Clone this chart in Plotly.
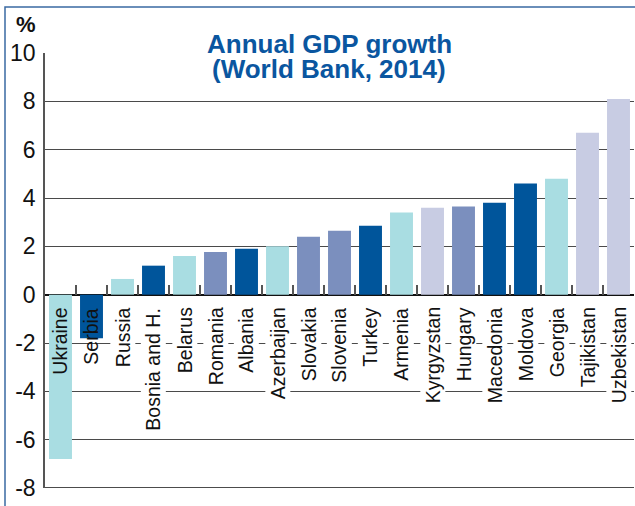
import plotly.graph_objects as go

countries = ["Ukraine", "Serbia", "Russia", "Bosnia and H.", "Belarus", "Romania",
             "Albania", "Azerbaijan", "Slovakia", "Slovenia", "Turkey", "Armenia",
             "Kyrgyzstan", "Hungary", "Macedonia", "Moldova", "Georgia",
             "Tajikistan", "Uzbekistan"]
growth = [-6.8, -1.8, 0.65, 1.2, 1.6, 1.77, 1.9, 2.0, 2.4, 2.65, 2.85, 3.4,
          3.6, 3.65, 3.8, 4.6, 4.8, 6.7, 8.1]
color_group = ["cyan", "dark", "cyan", "dark", "cyan", "mid", "dark", "cyan", "mid",
               "mid", "dark", "cyan", "pale", "mid", "dark", "dark", "cyan",
               "pale", "pale"]
palette = {"cyan": "#a9dde2", "dark": "#00559b", "mid": "#7b8fbe", "pale": "#c8cce3"}
y_ticks = [-8, -6, -4, -2, 0, 2, 4, 6, 8, 10]
y_range = [-8, 10]
title_lines = ["Annual GDP growth", "(World Bank, 2014)"]

W, H = 635, 506
L, R, T, B = 45, 1, 53, 18
pw, ph = W - L - R, H - T - B

def px_x(px):
    return (px - L) / pw

def px_y(py):
    return (H - B - py) / ph

narrow = "Liberation Sans Narrow, Arial Narrow, Liberation Sans, Arial, sans-serif"
sans = "Liberation Sans, Arial, Helvetica, sans-serif"

fig = go.Figure()
fig.add_trace(go.Bar(
    x=countries, y=growth,
    marker=dict(color=[palette[c] for c in color_group], line=dict(width=0)),
    hoverinfo="x+y",
))

# category labels, rotated, masking grid lines where they sit on white
for c, v in zip(countries, growth):
    fig.add_annotation(
        x=c, y=0, xref="x", yref="y", text=c, textangle=-90,
        showarrow=False, xanchor="center", yanchor="top", yshift=-11,
        font=dict(family=narrow, size=19.5, color="#111"),
        bgcolor="white" if v >= 0 else "rgba(0,0,0,0)", borderpad=1,
    )

zero_pos = (0 - y_range[0]) / (y_range[1] - y_range[0])

fig.update_layout(
    width=W, height=H,
    margin=dict(l=L, r=R, t=T, b=B),
    paper_bgcolor="white", plot_bgcolor="white",
    showlegend=False, bargap=0.26,
    xaxis=dict(
        type="category", range=[-0.5, len(countries) - 0.5],
        anchor="free", position=zero_pos,
        showticklabels=False, showgrid=False, showline=False, zeroline=False,
        ticks="inside", tickson="boundaries", ticklen=10, tickwidth=1.5,
        tickcolor="#555",
    ),
    yaxis=dict(
        range=y_range, tickvals=y_ticks, ticktext=[str(t) for t in y_ticks],
        showgrid=True, gridcolor="#4a4a4a", gridwidth=1.3,
        zeroline=True, zerolinecolor="#111", zerolinewidth=2,
        showline=True, linecolor="#555", linewidth=1.5,
        ticks="", ticklabelstandoff=3,
        tickfont=dict(family=narrow, size=23, color="#111"),
    ),
)

# bottom frame line of the plot at the axis minimum
fig.add_shape(
    type="line", xref="paper", yref="y", x0=0, x1=1, y0=y_range[0], y1=y_range[0],
    line=dict(color="#111", width=1.5), layer="above",
)

# white panel behind the title, interrupting the top grid line
fig.add_shape(
    type="rect", xref="paper", yref="paper",
    x0=px_x(160), x1=px_x(497), y0=px_y(62), y1=px_y(30),
    line=dict(width=0), fillcolor="white", layer="above",
)

# title
fig.add_annotation(
    x=px_x(329), y=px_y(44), xref="paper", yref="paper", text="<b>%s</b>" % title_lines[0],
    showarrow=False, xanchor="center", yanchor="middle",
    font=dict(family=sans, size=26, color="#0a56a0"),
)
fig.add_annotation(
    x=px_x(329), y=px_y(68.5), xref="paper", yref="paper", text="<b>%s</b>" % title_lines[1],
    showarrow=False, xanchor="center", yanchor="middle",
    font=dict(family=sans, size=26, color="#0a56a0"),
)
# unit label
fig.add_annotation(
    x=px_x(26), y=px_y(24), xref="paper", yref="paper", text="<b>%</b>",
    showarrow=False, xanchor="center", yanchor="middle",
    font=dict(family=sans, size=22, color="#111"),
)
# outer frame
fig.add_shape(
    type="rect", xref="paper", yref="paper",
    x0=px_x(5), x1=px_x(645), y0=px_y(515), y1=px_y(7),
    line=dict(color="#3a6aa2", width=1.5), fillcolor="rgba(0,0,0,0)", layer="above",
)

fig.write_html("out.html", config={"displayModeBar": False},
               post_script="document.body.style.margin='0';")
